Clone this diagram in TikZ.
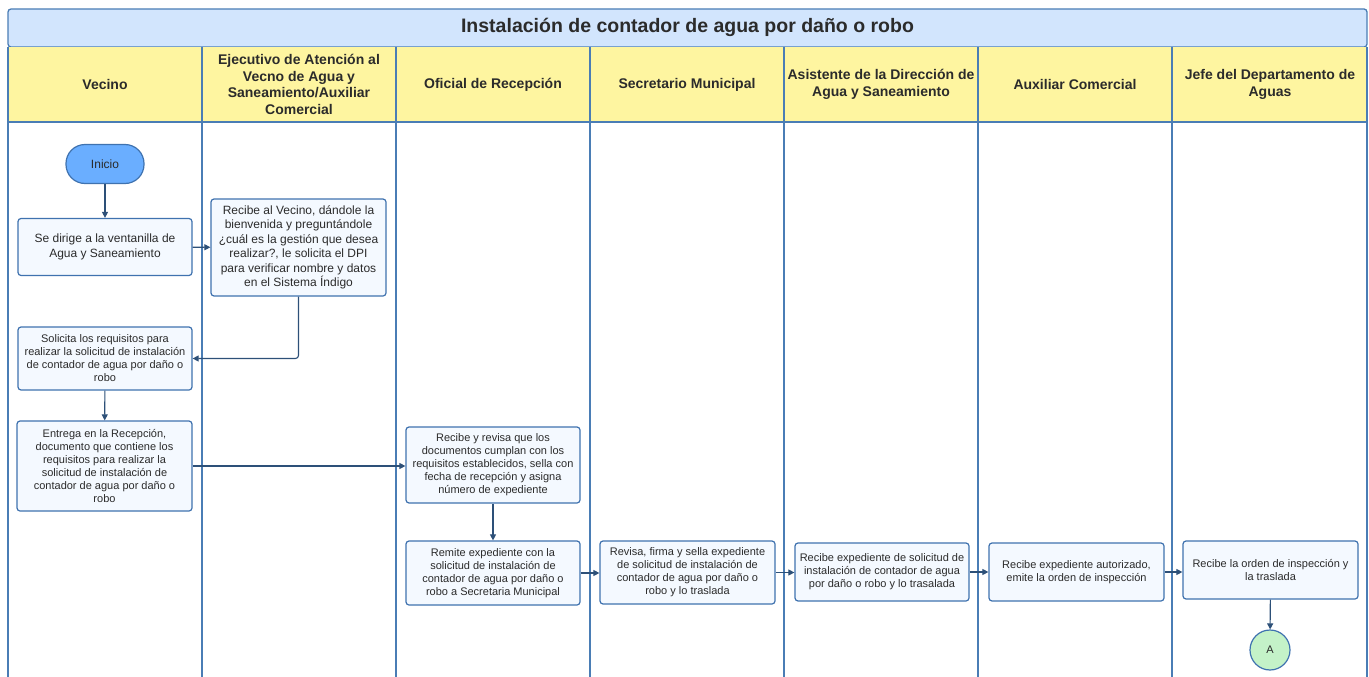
\documentclass[tikz,border=0pt]{standalone}
\usepackage{fontspec}
\setmainfont{Liberation Sans}
\usetikzlibrary{arrows.meta}
\definecolor{lanec}{HTML}{4A7DB5}
\definecolor{titlefill}{HTML}{D2E5FD}
\definecolor{headfill}{HTML}{FEF5A0}
\definecolor{boxfill}{HTML}{F4F9FF}
\definecolor{boxc}{HTML}{3F72AF}
\definecolor{arrc}{HTML}{2D5078}
\definecolor{startfill}{HTML}{6AAEFF}
\definecolor{endfill}{HTML}{C4F2C8}
\definecolor{textc}{HTML}{2B2B2B}
\tikzset{
  lane/.style={draw=lanec, line width=1.3},
  hdr/.style={font=\fontsize{14}{16.5}\selectfont\bfseries, text=textc, align=center},
  flowbox/.style={draw=boxc, fill=boxfill, rounded corners=3, line width=1.2, align=center, text=textc, inner sep=2},
  bigtxt/.style={font=\fontsize{12}{14.5}\selectfont},
  smalltxt/.style={font=\fontsize{11}{13}\selectfont},
  flowarrow/.style={draw=arrc, line width=1.1, -{Triangle[length=6,width=6]}},
}
\begin{document}
\begin{tikzpicture}[x=1pt,y=-1pt]
\useasboundingbox (0,0) rectangle (1369,677);
% title
\draw[lane, fill=titlefill, rounded corners=3] (8,9) rectangle (1367,47);
\node[font=\fontsize{19.5}{24}\selectfont\bfseries, text=textc] (title) at (687.5,27.5) {Instalación de contador de agua por daño o robo};
% header row
\fill[headfill] (8,47) rectangle (1367,122);
\draw[lane] (8,122) -- (1367,122);
\foreach \x in {8,202,396,590,784,978,1172,1367} {\draw[lane] (\x,47) -- (\x,677);}
\node[hdr] (h1) at (105,84.5) {Vecino};
\node[hdr] (h2) at (299,84.5) {Ejecutivo de Atención al\\Vecno de Agua y\\Saneamiento/Auxiliar\\Comercial};
\node[hdr] (h3) at (493,84.5) {Oficial de Recepción};
\node[hdr] (h4) at (687,84.5) {Secretario Municipal};
\node[hdr] (h5) at (881,84.5) {Asistente de la Dirección de\\Agua y Saneamiento};
\node[hdr] (h6) at (1075,84.5) {Auxiliar Comercial};
\node[hdr] (h7) at (1270,84.5) {Jefe del Departamento de\\Aguas};
% nodes
\node[draw=boxc, fill=startfill, rounded corners=19, line width=1.2, minimum width=78, minimum height=39, text=textc, bigtxt] (inicio) at (105,164) {Inicio};
\node[flowbox, bigtxt, minimum width=174, minimum height=57] (b1) at (105,247) {Se dirige a la ventanilla de\\Agua y Saneamiento};
\node[flowbox, bigtxt, minimum width=175, minimum height=97] (b2) at (298.5,247.5) {Recibe al Vecino, dándole la\\bienvenida y preguntándole\\¿cuál es la gestión que desea\\realizar?, le solicita el DPI\\para verificar nombre y datos\\en el Sistema Índigo};
\node[flowbox, smalltxt, minimum width=174, minimum height=63] (b3) at (105,358.5) {Solicita los requisitos para\\realizar la solicitud de instalación\\de contador de agua por daño o\\robo};
\node[flowbox, smalltxt, minimum width=175, minimum height=90] (b4) at (104.5,466) {Entrega en la Recepción,\\documento que contiene los\\requisitos para realizar la\\solicitud de instalación de\\contador de agua por daño o\\robo};
\node[flowbox, smalltxt, minimum width=174, minimum height=76] (b5) at (493,465) {Recibe y revisa que los\\documentos cumplan con los\\requisitos establecidos, sella con\\fecha de recepción y asigna\\número de expediente};
\node[flowbox, smalltxt, minimum width=174, minimum height=64] (b6) at (493,573) {Remite expediente con la\\solicitud de instalación de\\contador de agua por daño o\\robo a Secretaria Municipal};
\node[flowbox, smalltxt, minimum width=175, minimum height=63] (b7) at (687.5,572.5) {Revisa, firma y sella expediente\\de solicitud de instalación de\\contador de agua por daño o\\robo y lo traslada};
\node[flowbox, smalltxt, minimum width=174, minimum height=58] (b8) at (882,572) {Recibe expediente de solicitud de\\instalación de contador de agua\\por daño o robo y lo trasalada};
\node[flowbox, smalltxt, minimum width=175, minimum height=58] (b9) at (1076.5,572) {Recibe expediente autorizado,\\emite la orden de inspección};
\node[flowbox, smalltxt, minimum width=175, minimum height=58] (b10) at (1270.5,570) {Recibe la orden de inspección y\\la traslada};
\node[draw=boxc, fill=endfill, circle, line width=1.2, minimum size=40, inner sep=0, text=textc, smalltxt] (endA) at (1270,650) {A};
% connectors
\draw[flowarrow] (inicio) -- (b1);
\draw[flowarrow] (b1) -- (b2);
\draw[flowarrow, rounded corners=3] (b2.south) |- (b3.east);
\draw[flowarrow] (b3) -- (b4);
\draw[flowarrow] (b4.east) -- (b5.west |- b4.east);
\draw[flowarrow] (b5) -- (b6);
\draw[flowarrow] (b6.east) -- (b7.west |- b6.east);
\draw[flowarrow] (b7.east) -- (b8.west |- b7.east);
\draw[flowarrow] (b8) -- (b9);
\draw[flowarrow] (b9.east) -- (b10.west |- b9.east);
\draw[flowarrow] (b10) -- (endA);
\end{tikzpicture}
\end{document}
